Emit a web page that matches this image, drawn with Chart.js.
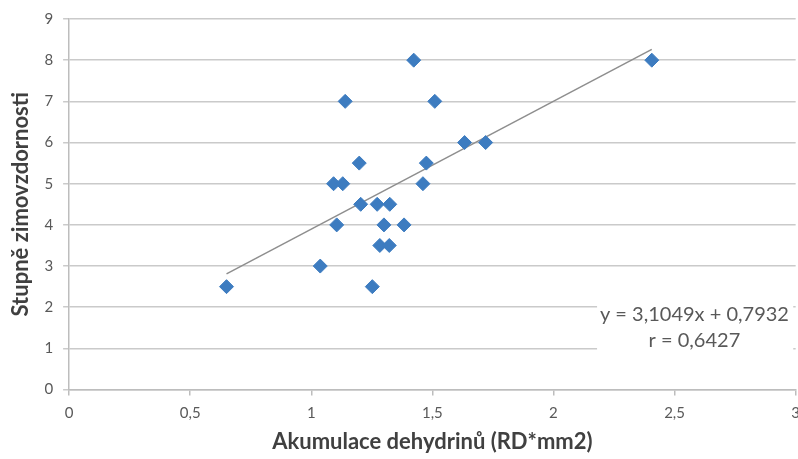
<!DOCTYPE html>
<html>
<head>
<meta charset="utf-8">
<script src="https://cdn.jsdelivr.net/npm/chart.js@4/dist/chart.umd.min.js"></script>
<style>
  html, body { margin: 0; padding: 0; background: #ffffff; overflow: hidden; }
  #outer { width: 798px; height: 459px; overflow: hidden; position: relative; }
  #wrap { width: 809px; height: 459px; position: absolute; left: 0; top: 0; }
</style>
</head>
<body>
<div id="outer"><div id="wrap"><canvas id="c"></canvas></div></div>
<script>
// ---- data ----
const accumulation = [0.65, 1.037, 1.252, 1.283, 1.322, 1.105, 1.30, 1.383, 1.204, 1.272, 1.324,
                      1.092, 1.130, 1.461, 1.198, 1.475, 1.633, 1.72, 1.14, 1.51, 1.423, 2.406];
const hardiness    = [2.5, 3, 2.5, 3.5, 3.5, 4, 4, 4, 4.5, 4.5, 4.5,
                      5, 5, 5, 5.5, 5.5, 6, 6, 7, 7, 8, 8];
const trendSlope = 3.1049;
const trendIntercept = 0.7932;
const corrR = 0.6427;
const xTitle = 'Akumulace dehydrinů (RD*mm2)';
const yTitle = 'Stupně zimovzdornosti';

const fmt = v => String(v).replace('.', ',');

const points = accumulation.map((x, i) => ({ x: x, y: hardiness[i] }));
const xMin = Math.min(...accumulation), xMax = Math.max(...accumulation);
const trend = [xMin, xMax].map(x => ({ x: x, y: trendSlope * x + trendIntercept }));

const FONT = 'Lato, "Open Sans", sans-serif';

const eqBox = {
  id: 'eqBox',
  afterDatasetsDraw(chart) {
    const ctx = chart.ctx;
    const xs = chart.scales.x, ys = chart.scales.y;
    ctx.save();
    ctx.fillStyle = '#ffffff';
    const left = xs.getPixelForValue(2.18), right = xs.getPixelForValue(2.99);
    const top = ys.getPixelForValue(2.4), bottom = ys.getPixelForValue(0.8);
    ctx.fillRect(left, top, right - left, bottom - top);
    ctx.fillStyle = '#595959';
    ctx.font = '20px ' + FONT;
    ctx.textAlign = 'center';
    ctx.textBaseline = 'middle';
    const cx = xs.getPixelForValue(2.582);
    ctx.fillText('y = ' + fmt(trendSlope) + 'x + ' + fmt(trendIntercept), cx, ys.getPixelForValue(1.83));
    ctx.fillText('r = ' + fmt(corrR), cx, ys.getPixelForValue(1.18));
    ctx.restore();
  }
};

new Chart(document.getElementById('c'), {
  type: 'scatter',
  data: {
    datasets: [
      {
        type: 'line',
        data: trend,
        borderColor: '#8e8e8e',
        borderWidth: 1.5,
        pointRadius: 0,
        fill: false,
        order: 2
      },
      {
        data: points,
        pointStyle: 'rectRot',
        pointRadius: 7,
        backgroundColor: '#3d7cc0',
        borderColor: '#3d7cc0',
        borderWidth: 1,
        order: 1
      }
    ]
  },
  options: {
    responsive: true,
    maintainAspectRatio: false,
    animation: false,
    events: [],
    layout: { padding: { left: 8, top: 14.5, right: 0, bottom: 4 } },
    plugins: { legend: { display: false }, tooltip: { enabled: false } },
    scales: {
      x: {
        type: 'linear',
        min: 0, max: 3,
        ticks: { stepSize: 0.5, color: '#595959', font: { family: FONT, size: 15 }, padding: 9, callback: v => fmt(v) },
        grid: { drawOnChartArea: false, drawTicks: true, tickLength: 6, color: '#bdbdbd', lineWidth: 1.5 },
        border: { color: '#bdbdbd', width: 1.5 },
        title: { display: true, text: xTitle, color: '#404040', font: { family: FONT, size: 22, weight: 'bold' }, padding: { top: -3, bottom: 0 } }
      },
      y: {
        type: 'linear',
        min: 0, max: 9,
        ticks: { stepSize: 1, color: '#595959', font: { family: FONT, size: 15 }, padding: 10 },
        grid: { color: '#cacaca', lineWidth: 1.5, tickLength: 6 },
        border: { color: '#bdbdbd', width: 1.5 },
        title: { display: true, text: yTitle, color: '#404040', font: { family: FONT, size: 22, weight: 'bold' }, padding: { top: 0, bottom: 0 } }
      }
    }
  },
  plugins: [eqBox]
});
</script>
</body>
</html>
